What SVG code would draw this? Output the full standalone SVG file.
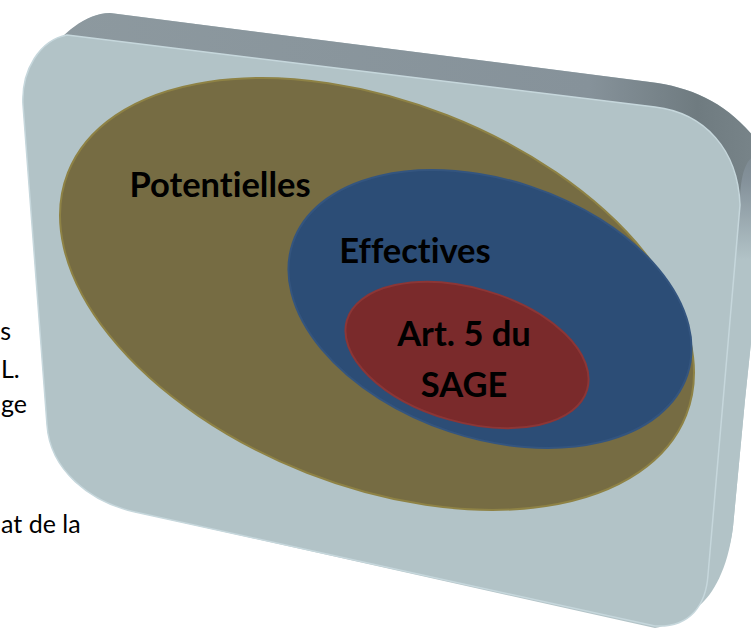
<svg xmlns="http://www.w3.org/2000/svg" width="751" height="628" viewBox="0 0 751 628">
<defs>
<style>
.lbl{font-family:Lato,"Liberation Sans",sans-serif;font-weight:bold;fill:#000;font-size:34.5px;font-variant-ligatures:none;text-anchor:middle;}
.side{font-family:Lato,"Liberation Sans",sans-serif;font-size:25px;fill:#000;font-variant-ligatures:none;}
</style>
<linearGradient id="topG" x1="0" y1="0" x2="1" y2="0">
<stop offset="0" stop-color="#8d999f"/>
<stop offset="0.75" stop-color="#86929a"/>
<stop offset="0.9" stop-color="#6f7b80"/>
<stop offset="1" stop-color="#7a868b"/>
</linearGradient>
<linearGradient id="sideG" x1="0" y1="100" x2="0" y2="260" gradientUnits="userSpaceOnUse">
<stop offset="0" stop-color="#6b777c"/>
<stop offset="0.5" stop-color="#84919a"/>
<stop offset="1" stop-color="#b2c3c7"/>
</linearGradient>
</defs>
<g id="box">
<path d="M50,50 C65,35 85,13 110,13 L650,82 C700,88 740,110 770,160 L745,400 L733,527 C728,570 700,620 655,628 L135,512 C90,502 50,470 47,425 L23,105 C21,80 35,60 50,50 Z" fill="#b2c3c7"/>
<path d="M45,55 C62,35 85,13 110,13 L650,82 C700,88 740,110 770,160 L770,300 L740,220 C738,150 705,113 655,107 L67,35 C58,37 50,45 45,55 Z" fill="url(#topG)"/>
<path d="M740,205 C740,150 760,150 770,160 L745,400 L733,527 C728,570 712,595 700,605 L708,575 Z" fill="url(#sideG)"/>
<path d="M67,35 L655,107 C705,113 738,150 740,205 L708,575 C706,605 690,628 655,626 L135,512 C90,502 50,470 47,425 L23,105 C21,70 40,40 67,35 Z" fill="#b2c3c7" stroke="#c6d7dc" stroke-width="1.5"/>
</g>
<g id="potentielles">
<ellipse cx="377" cy="294" rx="332" ry="192" transform="rotate(21.4 377 294)" fill="#766c43" stroke="#8e8245" stroke-width="2"/>
<text class="lbl" x="220" y="197">Potentielles</text>
</g>
<g id="effectives">
<ellipse cx="490" cy="309" rx="208" ry="129" transform="rotate(18.4 490 309)" fill="#2c4d76" stroke="#34557f" stroke-width="2"/>
<text class="lbl" x="415" y="263">Effectives</text>
</g>
<g id="art5">
<ellipse cx="467" cy="355" rx="125" ry="67" transform="rotate(16 467 355)" fill="#7a2a2b" stroke="#8c3636" stroke-width="2"/>
<text class="lbl" x="464" y="346">Art. 5 du</text>
<text class="lbl" x="464" y="397">SAGE</text>
</g>
<g id="connectors"/>
<g id="page-text">
<text class="side" x="11" y="340" text-anchor="end">s</text>
<text class="side" x="1" y="378">L.</text>
<text class="side" x="1" y="413">ge</text>
<text class="side" x="1" y="533">at de la</text>
</g>
</svg>
